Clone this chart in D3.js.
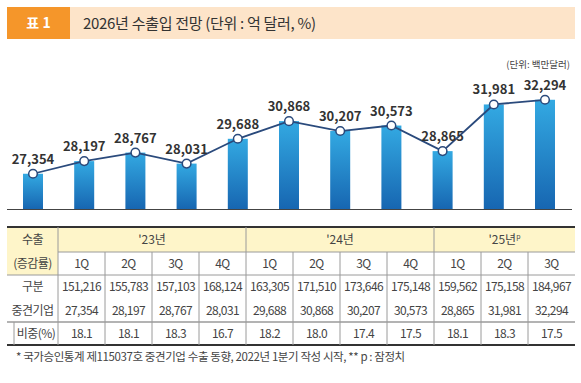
<!DOCTYPE html>
<html>
<head>
<meta charset="utf-8">
<script src="https://cdn.jsdelivr.net/npm/d3@7"></script>
<style>
  body { margin: 0; background: #fff; }
  svg { display: block; font-family: "Noto Sans CJK KR", "Noto Sans", sans-serif; }
</style>
</head>
<body>
<div id="chart"></div>
<script>
var quarters = ["1Q", "2Q", "3Q", "4Q", "1Q", "2Q", "3Q", "4Q", "1Q", "2Q", "3Q"];
var years = [
  { label: "'23년", sup: "", span: 4 },
  { label: "'24년", sup: "", span: 4 },
  { label: "'25년", sup: "p", span: 3 }
];
var totalExports = [151216, 155783, 157103, 168124, 163305, 171510, 173646, 175148, 159562, 175158, 184967];
var midsizeExports = [27354, 28197, 28767, 28031, 29688, 30868, 30207, 30573, 28865, 31981, 32294];
var shares = ["18.1", "18.1", "18.3", "16.7", "18.2", "18.0", "17.4", "17.5", "18.1", "18.3", "17.5"];

var W = 581, H = 383;
var svg = d3.select("#chart").append("svg").attr("width", W).attr("height", H);

// ---- title bar
svg.append("rect").attr("x", 70).attr("y", 7).attr("width", 505).attr("height", 32).attr("fill", "#fde4c9");
svg.append("rect").attr("x", 7).attr("y", 7).attr("width", 63).attr("height", 32).attr("fill", "#f5962a");
svg.append("text").attr("x", 38.5).attr("y", 28).attr("text-anchor", "middle")
   .attr("fill", "#fff").attr("font-size", 14).attr("font-weight", 700).text("표 1");
svg.append("text").attr("x", 83).attr("y", 28.5)
   .attr("fill", "#333").attr("font-size", 15).attr("letter-spacing", -0.3)
   .text("2026년 수출입 전망 (단위 : 억 달러, %)");

// ---- chart
var idx = d3.range(midsizeExports.length);
var x = d3.scalePoint().domain(idx).range([33, 545]);
var y = d3.scaleLinear().domain([25000, 33000]).range([209, 89.2]);
var barW = 20;

var defs = svg.append("defs");
var grad = defs.append("linearGradient").attr("id", "barGrad")
  .attr("x1", 0).attr("y1", 0).attr("x2", 0).attr("y2", 1);
grad.append("stop").attr("offset", "0%").attr("stop-color", "#33a9e2");
grad.append("stop").attr("offset", "100%").attr("stop-color", "#1766b1");

svg.append("text").attr("x", 570).attr("y", 68).attr("text-anchor", "end")
   .attr("fill", "#444").attr("font-size", 9.5).text("(단위:  백만달러)");

svg.selectAll("rect.bar").data(midsizeExports).enter().append("rect")
   .attr("class", "bar")
   .attr("x", function(d, i) { return x(i) - barW / 2; })
   .attr("y", function(d) { return y(d); })
   .attr("width", barW)
   .attr("height", function(d) { return y.range()[0] - y(d); })
   .attr("fill", "url(#barGrad)");

svg.append("line").attr("x1", 7).attr("x2", 572).attr("y1", 209.5).attr("y2", 209.5)
   .attr("stroke", "#444").attr("stroke-width", 1.2);

var line = d3.line().x(function(d, i) { return x(i); }).y(function(d) { return y(d); });
svg.append("path").datum(midsizeExports).attr("d", line)
   .attr("fill", "none").attr("stroke", "#2a4a7c").attr("stroke-width", 1.8);

svg.selectAll("circle.pt").data(midsizeExports).enter().append("circle")
   .attr("class", "pt")
   .attr("cx", function(d, i) { return x(i); })
   .attr("cy", function(d) { return y(d); })
   .attr("r", 4.3)
   .attr("fill", "#fff").attr("stroke", "#2a4a7c").attr("stroke-width", 1.5);

svg.selectAll("text.val").data(midsizeExports).enter().append("text")
   .attr("class", "val")
   .attr("x", function(d, i) { return x(i); })
   .attr("y", function(d) { return y(d) - 10; })
   .attr("text-anchor", "middle")
   .attr("fill", "#333").attr("font-size", 13).attr("font-weight", 700)
   .text(function(d) { return d3.format(",")(d); });

// ---- table
var col = d3.scaleBand().domain(idx).range([58, 575]);
var rowY = [227, 252, 275, 298, 322, 345];
var tb = svg.append("g");
var gray = "#9a9a9a", textC = "#444", fs = 12;

// backgrounds
tb.append("rect").attr("x", 7).attr("y", rowY[0]).attr("width", 51).attr("height", rowY[2] - rowY[0]).attr("fill", "#fef5c9");
tb.append("rect").attr("x", 58).attr("y", rowY[0]).attr("width", 517).attr("height", rowY[1] - rowY[0]).attr("fill", "#fef5c9");

// horizontal lines
tb.append("line").attr("x1", 58).attr("x2", 575).attr("y1", rowY[1]).attr("y2", rowY[1]).attr("stroke", gray);
tb.append("line").attr("x1", 7).attr("x2", 575).attr("y1", rowY[2]).attr("y2", rowY[2]).attr("stroke", gray);
tb.append("line").attr("x1", 7).attr("x2", 575).attr("y1", rowY[4]).attr("y2", rowY[4]).attr("stroke", gray).attr("stroke-width", 1.5);
tb.append("line").attr("x1", 7).attr("x2", 575).attr("y1", rowY[0]).attr("y2", rowY[0]).attr("stroke", "#333").attr("stroke-width", 2);
tb.append("line").attr("x1", 7).attr("x2", 575).attr("y1", rowY[5]).attr("y2", rowY[5]).attr("stroke", "#333").attr("stroke-width", 2);

// vertical lines
tb.append("line").attr("x1", 58).attr("x2", 58).attr("y1", rowY[0]).attr("y2", rowY[5]).attr("stroke", gray);
tb.append("line").attr("x1", 14).attr("x2", 14).attr("y1", rowY[4]).attr("y2", rowY[5]).attr("stroke", gray);
var start = 0;
years.forEach(function(yr, k) {
  var x0 = col(start), x1 = col(start + yr.span - 1) + col.bandwidth();
  if (k > 0) {
    tb.append("line").attr("x1", x0).attr("x2", x0).attr("y1", rowY[0]).attr("y2", rowY[1]).attr("stroke", gray);
  }
  var t = tb.append("text").attr("x", (x0 + x1) / 2).attr("y", rowY[0] + 17)
    .attr("text-anchor", "middle").attr("fill", textC).attr("font-size", fs).text(yr.label);
  if (yr.sup) t.append("tspan").attr("dy", -5).attr("font-size", 7).text(yr.sup);
  start += yr.span;
});
idx.slice(1).forEach(function(i) {
  tb.append("line").attr("x1", col(i)).attr("x2", col(i)).attr("y1", rowY[1]).attr("y2", rowY[5]).attr("stroke", gray);
});

// row labels
var rowLabels = [
  { t: "수출", r: 0, x: 32.5 },
  { t: "(증감률)", r: 1, x: 32.5 },
  { t: "구분", r: 2, x: 32.5 },
  { t: "중견기업", r: 3, x: 32.5 },
  { t: "비중(%)", r: 4, x: 36 }
];
rowLabels.forEach(function(l) {
  tb.append("text").attr("x", l.x).attr("y", (rowY[l.r] + rowY[l.r + 1]) / 2 + 4.5)
    .attr("text-anchor", "middle").attr("fill", textC).attr("font-size", fs)
    .attr("letter-spacing", -0.5).text(l.t);
});

function cellRow(values, r) {
  tb.selectAll(null).data(values).enter().append("text")
    .attr("x", function(d, i) { return col(i) + col.bandwidth() / 2; })
    .attr("y", (rowY[r] + rowY[r + 1]) / 2 + 4.5)
    .attr("text-anchor", "middle").attr("fill", textC).attr("font-size", fs)
    .attr("letter-spacing", -0.6)
    .text(function(d) { return d; });
}
cellRow(quarters, 1);
cellRow(totalExports.map(d3.format(",")), 2);
cellRow(midsizeExports.map(d3.format(",")), 3);
cellRow(shares, 4);

// footnote
svg.append("text").attr("x", 16).attr("y", 361).attr("fill", textC).attr("font-size", 11.5)
   .attr("letter-spacing", -0.4)
   .text("* 국가승인통계 제115037호 중견기업 수출 동향, 2022년 1분기 작성 시작, ** p : 잠정치");
</script>
</body>
</html>
